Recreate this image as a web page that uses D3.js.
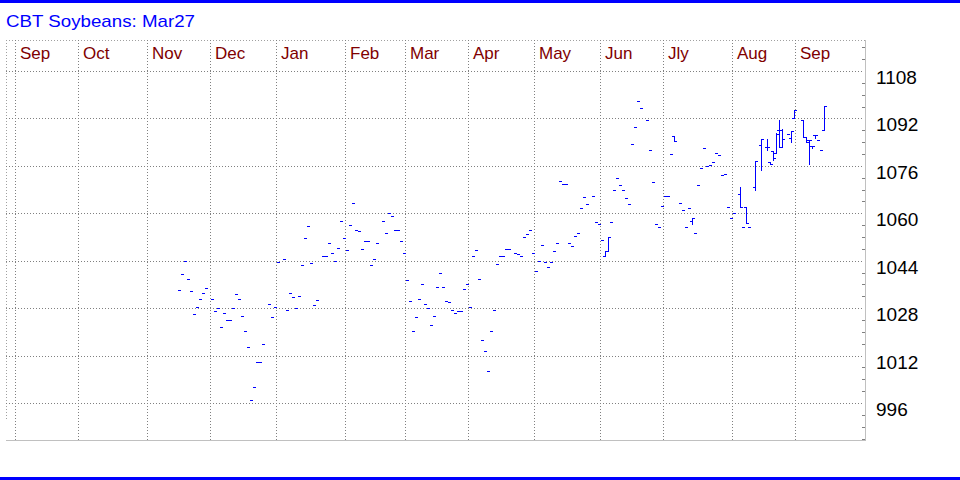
<!DOCTYPE html>
<html><head><meta charset="utf-8">
<script src="https://cdn.jsdelivr.net/npm/d3@7/dist/d3.min.js"></script>
<style>html,body{margin:0;padding:0;background:#fff;}svg{display:block;}</style>
</head><body>
<svg id="chart" width="960" height="480"></svg>
<script>
// ---- data ----
const title = "CBT Soybeans: Mar27";
const monthLabels = ["Sep","Oct","Nov","Dec","Jan","Feb","Mar","Apr","May","Jun","Jly","Aug","Sep"];
const yTickValues = [996, 1012, 1028, 1044, 1060, 1076, 1092, 1108];
const firstDay = "2024-11-14";
// daily settlement, one entry per weekday from firstDay (null = no trade)
const closes = [
  1034, 1039.5, 1044, 1038, 1033.75, 1026, 1028.25, 1031.25, 1033.25, 1034.75,
  null, 1031, 1027, 1028, 1021.5, 1026.5, 1024, 1024, 1028, 1032.75,
  1031.25, 1025.5, 1020.25, 1015, 997, 1001.5, 1010, 1009.75, 1015.75, null,
  1029.5, 1025, 1028.5, 1043.5, null, 1044.5, 1027.5, 1033.25, 1031.75, 1028,
  1032, 1042.5, 1051.5, 1055.75, 1043.25, 1029, 1030.75, null, 1045.75, 1045.75,
  1050, 1046.5, 1044, 1048.25, 1057.5, 1051.5, 1047.5, 1056, 1063.5, 1054.25,
  1054, 1048, 1050.5, 1050.5, 1042.5, 1044.5, 1050, null, 1057.25, 1053.5,
  1060.25, 1059, 1054.25, 1054.25, 1050.5, 1046.5, 1037.5, 1030.25, 1020.25, 1025,
  1031.25, 1036, 1029.25, 1028, 1022.25, 1025.5, 1035, 1039.75, 1035, 1030.5,
  1030, 1027.5, 1026.5, 1027, 1027, 1034.5, 1036, 1028.5, 1045.75, 1047.5,
  1037.75, 1017.25, 1013.5, 1006.75, 1020.25, 1027.5, 1043, 1045.5, 1045.75, 1048,
  1048, null, 1046.5, 1046.25, 1045.5, 1052, 1053, 1054.5, 1046.5, 1040.5,
  1043.75, 1049.25, 1043.5, 1042, 1043.5, 1047.25, 1050, 1070.75, 1069.75, 1069.75,
  1050, 1049, 1052.25, 1053.5, 1061.75, 1065.5, 1063, null, 1066, 1057,
  1056.25, 1051, 1047.25, 1052, 1057, 1067.75, 1071.75, 1069.5, 1067.75, 1065,
  1063, 1083.5, 1089.25, 1098, 1095.5, null, 1091.5, 1081.25, 1070.5, 1056.25,
  1055.25, 1062.5, 1065.75, 1066, 1080, 1084.5, null, 1063.5, 1061, 1055.25,
  1061.75, 1058.5, 1053.5, 1069.5, 1075.25, 1082, 1076, 1076.25, 1077.25, 1080.5,
  1079.5, 1072.75, 1073.25, 1062, 1058.25, 1060, null, 1062, 1055.5, 1056.75,
  1055.5, null, 1077.75, null, 1085, null, 1082.5, 1076.5, 1078.5, 1086.75,
  1088, 1085, null, 1086.75, 1087.75, 1094.75, null, null, 1085.75, 1084,
  1084.75, 1082.75, 1086.5, 1084.75, 1081.5, 1096.25
];
// days that traded a range (open / high / low; close is in closes)
const rangeDays = ["2025-06-02","2025-06-03","2025-07-03","2025-07-11","2025-08-04","2025-08-06",
  "2025-08-11","2025-08-13","2025-08-15","2025-08-18","2025-08-19","2025-08-20","2025-08-21",
  "2025-08-22","2025-08-27","2025-08-28","2025-09-02","2025-09-03","2025-09-04","2025-09-05",
  "2025-09-08","2025-09-11"];
const rangeOpen = [1045.75,1047.25,1086,1057.25,1066.5,1062,1069,1083,1082.5,1077.25,1081,1080.25,1088,
  1082.5,1085.25,1092,1091.5,1085.75,1084.75,1082.75,1086.5,1088.25];
const rangeHigh = [1047.25,1052,1086,1058.5,1069,1062,1077.75,1085,1085,1077.25,1081,1087.25,1091.5,
  1088.5,1087.75,1094.75,1091.5,1085.75,1084.75,1082.75,1086.5,1096.25];
const rangeLow = [1045.75,1047.25,1084.5,1056.25,1062,1056.75,1068,1074.75,1081.5,1076.5,1078,1080.25,1082.5,
  1082.5,1084,1092,1085.75,1084,1076.75,1082,1085.25,1088.25];

// ---- build ----
const fmt = d3.timeFormat("%Y-%m-%d");
const weekdays = d3.timeDay.range(new Date(2024, 8, 2), new Date(2025, 9, 1))
  .filter(d => d.getDay() !== 0 && d.getDay() !== 6);
const dayIndex = new Map(weekdays.map((d, i) => [fmt(d), i]));
const start = dayIndex.get(firstDay);

const bars = [];
closes.forEach((c, k) => {
  if (c == null) return;
  const i = start + k;
  bars.push({i, date: fmt(weekdays[i]), o: c, h: c, l: c, c});
});
const byDate = new Map(bars.map(b => [b.date, b]));
rangeDays.forEach((ds, j) => {
  const b = byDate.get(ds);
  if (b) { b.o = rangeOpen[j]; b.h = rangeHigh[j]; b.l = rangeLow[j]; }
});

const svg = d3.select("#chart");
const W = 960, H = 480;
const plot = {left: 6, top: 40, right: 865, bottom: 440};

const x = d3.scaleLinear().domain([0, weekdays.length]).range([15, 15 + 3 * weekdays.length]);
const y = d3.scaleLinear().domain([996, 1108]).range([403, 71]);
const barOffset = 5;

// blue bands
svg.append("rect").attr("x", 0).attr("y", 0).attr("width", W).attr("height", 3).attr("fill", "#0000ff");
svg.append("rect").attr("x", 0).attr("y", 477).attr("width", W).attr("height", 3).attr("fill", "#0000ff");

// title
svg.append("text").attr("x", 6).attr("y", 27)
  .attr("font-family", "Liberation Sans, Arial, sans-serif").attr("font-size", 17)
  .attr("fill", "#0000ff").attr("textLength", 189).attr("lengthAdjust", "spacingAndGlyphs")
  .text(title);

const g = svg.append("g").attr("shape-rendering", "crispEdges");

// frame
g.append("line").attr("x1", plot.left).attr("x2", plot.right).attr("y1", plot.top + 0.5).attr("y2", plot.top + 0.5)
  .attr("stroke", "#a0a0a0").attr("stroke-dasharray", "1,2");
g.append("line").attr("x1", plot.left + 0.5).attr("x2", plot.left + 0.5).attr("y1", plot.top).attr("y2", 420)
  .attr("stroke", "#a0a0a0").attr("stroke-dasharray", "1,2");
g.append("line").attr("x1", plot.right + 0.5).attr("x2", plot.right + 0.5).attr("y1", plot.top).attr("y2", plot.bottom + 1)
  .attr("stroke", "#c0c0c0");
g.append("line").attr("x1", plot.left).attr("x2", plot.right + 1).attr("y1", plot.bottom + 0.5).attr("y2", plot.bottom + 0.5)
  .attr("stroke", "#c0c0c0");

// month gridlines + labels
const monthStarts = weekdays.map((d, i) => i).filter(i => i === 0 || weekdays[i].getMonth() !== weekdays[i - 1].getMonth());
monthStarts.forEach((i, k) => {
  const gx = Math.round(x(i));
  g.append("line").attr("x1", gx + 0.5).attr("x2", gx + 0.5).attr("y1", plot.top).attr("y2", plot.bottom)
    .attr("stroke", "#808080").attr("stroke-dasharray", "1,2");
  if (monthLabels[k]) {
    svg.append("text").attr("x", gx + 5).attr("y", 59)
      .attr("font-family", "Liberation Sans, Arial, sans-serif").attr("font-size", 17)
      .attr("fill", "#800000").text(monthLabels[k]);
  }
});

// horizontal gridlines + labels
yTickValues.forEach(v => {
  const gy = Math.round(y(v));
  g.append("line").attr("x1", plot.left).attr("x2", plot.right - 2).attr("y1", gy + 0.5).attr("y2", gy + 0.5)
    .attr("stroke", "#808080").attr("stroke-dasharray", "1,2");
  svg.append("text").attr("x", 876).attr("y", gy + 13)
    .attr("font-family", "Liberation Sans, Arial, sans-serif").attr("font-size", 19)
    .attr("fill", "#000").text(v);
});
// minor ticks on right axis
d3.range(984, 1120, 4).filter(v => !yTickValues.includes(v)).forEach(v => {
  const ty = Math.round(y(v));
  if (ty <= plot.top || ty >= plot.bottom) return;
  g.append("rect").attr("x", plot.right - 3).attr("y", ty).attr("width", 3).attr("height", 1).attr("fill", "#808080");
});

// bars
const bg = g.append("g").attr("fill", "#0000ff");
bars.forEach(b => {
  const c = Math.round(x(b.i)) + barOffset;
  const yo = Math.round(y(b.o)), yh = Math.round(y(b.h)), yl = Math.round(y(b.l)), yc = Math.round(y(b.c));
  if (b.h === b.l) {
    bg.append("rect").attr("x", c - 1).attr("y", yc).attr("width", 3).attr("height", 1);
  } else {
    bg.append("rect").attr("x", c).attr("y", yh).attr("width", 1).attr("height", yl - yh + 1);
    bg.append("rect").attr("x", c - 2).attr("y", yo).attr("width", 2).attr("height", 1);
    bg.append("rect").attr("x", c + 1).attr("y", yc).attr("width", 2).attr("height", 1);
  }
});
</script>
</body></html>
